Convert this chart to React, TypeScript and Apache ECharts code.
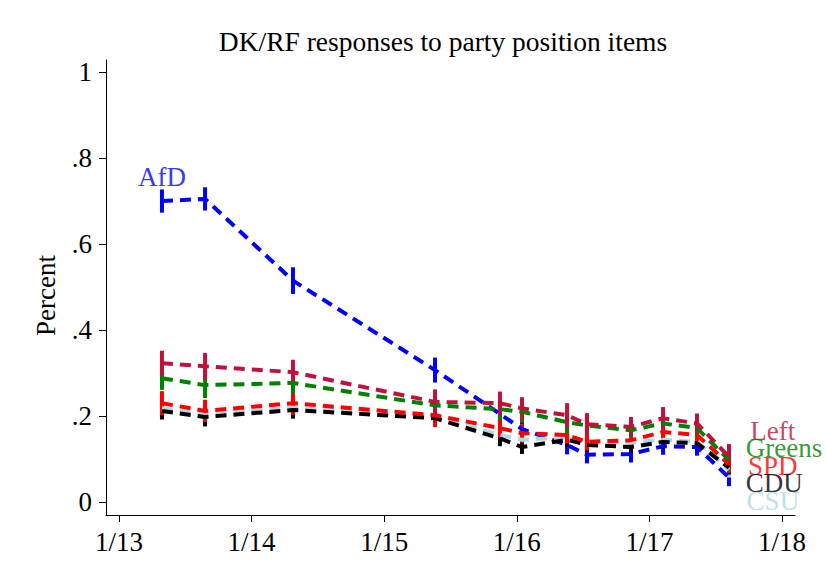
import React, { useEffect, useRef } from "react";
import * as echarts from "echarts";

// Survey dates in decimal years (2013.0 = January 2013)
const surveyDates = [2013.324, 2013.649, 2014.312, 2015.383, 2015.873, 2016.039, 2016.379, 2016.529, 2016.861, 2017.103, 2017.359, 2017.6];

const afd = [0.7, 0.705, 0.515, 0.307, 0.205, 0.17, 0.133, 0.11, 0.112, 0.13, 0.128, 0.057];
const afdCI = [0.027, 0.027, 0.031, 0.029, 0.025, 0.025, 0.022, 0.02, 0.02, 0.02, 0.02, 0.02];

const csu = [0.218, 0.205, 0.22, 0.2, 0.156, 0.145, 0.15, 0.14, 0.138, 0.145, 0.14, 0.075];
const csuCI = [0.022, 0.022, 0.022, 0.022, 0.02, 0.018, 0.018, 0.018, 0.018, 0.018, 0.018, 0.018];

const cdu = [0.212, 0.198, 0.214, 0.195, 0.148, 0.128, 0.145, 0.133, 0.128, 0.14, 0.137, 0.08];
const cduCI = [0.02, 0.022, 0.02, 0.02, 0.018, 0.016, 0.016, 0.016, 0.016, 0.016, 0.016, 0.016];

const spd = [0.23, 0.212, 0.23, 0.202, 0.172, 0.16, 0.156, 0.14, 0.144, 0.163, 0.156, 0.088];
const spdCI = [0.028, 0.026, 0.027, 0.027, 0.022, 0.022, 0.02, 0.02, 0.02, 0.02, 0.02, 0.02];

const greens = [0.288, 0.272, 0.277, 0.225, 0.216, 0.21, 0.186, 0.178, 0.167, 0.183, 0.172, 0.098];
const greensCI = [0.027, 0.03, 0.025, 0.025, 0.025, 0.025, 0.025, 0.024, 0.022, 0.022, 0.022, 0.025];

const left = [0.323, 0.316, 0.302, 0.233, 0.23, 0.218, 0.202, 0.181, 0.175, 0.195, 0.183, 0.105];
const leftCI = [0.029, 0.031, 0.029, 0.029, 0.027, 0.026, 0.028, 0.026, 0.023, 0.026, 0.023, 0.03];

const xTicks = [2013, 2014, 2015, 2016, 2017, 2018];
const yTicks = [0, 0.2, 0.4, 0.6, 0.8, 1];

// Text labels placed in data space
const labelNames = ["AfD", "Left", "Greens", "SPD", "CDU", "CSU"];
const labelX = [2013.324, 2017.76, 2017.726, 2017.743, 2017.726, 2017.733];
const labelY = [0.756, 0.165, 0.1256, 0.0837, 0.044, 0.0023];

const FONT = "'Liberation Serif', 'Times New Roman', Times, serif";

const parties = [
  { name: "AfD", values: afd, ci: afdCI, color: "#0000FF" },
  { name: "CSU", values: csu, ci: csuCI, color: "#ADD8E6" },
  { name: "CDU", values: cdu, ci: cduCI, color: "#000000" },
  { name: "SPD", values: spd, ci: spdCI, color: "#FF0000" },
  { name: "Greens", values: greens, ci: greensCI, color: "#008000" },
  { name: "Left", values: left, ci: leftCI, color: "#C0103C" },
];
const labelColors: Record<string, string> = {
  AfD: "#0000FF",
  Left: "#C0103C",
  Greens: "#008000",
  SPD: "#FF0000",
  CDU: "#000000",
  CSU: "#ADD8E6",
};

export default function App() {
  const ref = useRef<HTMLDivElement>(null);
  useEffect(() => {
    if (!ref.current) return;
    const chart = echarts.init(ref.current, undefined, { renderer: "svg" });
    const series: any[] = [];
    parties.forEach((p) => {
      series.push({
        type: "custom",
        name: p.name + " CI",
        data: surveyDates.map((d, i) => [d, p.values[i] - p.ci[i], p.values[i] + p.ci[i]]),
        encode: { x: 0, y: [1, 2] },
        renderItem: (params: any, api: any) => {
          const x = api.value(0);
          const a = api.coord([x, api.value(1)]);
          const b = api.coord([x, api.value(2)]);
          return {
            type: "line",
            shape: { x1: a[0], y1: a[1], x2: b[0], y2: b[1] },
            style: { stroke: p.color, lineWidth: 4 },
          };
        },
        silent: true,
      });
      series.push({
        type: "line",
        name: p.name,
        data: surveyDates.map((d, i) => [d, p.values[i]]),
        symbol: "none",
        lineStyle: { color: p.color, width: 4, type: [11, 7], cap: "butt" },
        silent: true,
      });
    });
    series.push({
      type: "scatter",
      name: "labels",
      symbolSize: 1,
      itemStyle: { color: "transparent" },
      silent: true,
      data: labelNames.map((n, i) => ({
        value: [labelX[i], labelY[i]],
        label: {
          show: true,
          position: "inside",
          formatter: n,
          align: n === "AfD" ? "center" : "left",
          verticalAlign: "middle",
          color: labelColors[n],
          fontSize: 27,
          fontFamily: FONT,
        },
      })),
    });

    chart.setOption({
      animation: false,
      backgroundColor: "#ffffff",
      grid: { left: 106, right: 31, top: 60, bottom: 64, containLabel: false },
      graphic: [
        {
          type: "text",
          x: 443,
          y: 41,
          style: {
            text: "DK/RF responses to party position items",
            fontSize: 27.5,
            fontFamily: FONT,
            fill: "#000",
            textAlign: "center",
            textVerticalAlign: "middle",
          },
        },
      ],
      xAxis: {
        type: "value",
        min: 2012.902,
        max: 2018.098,
        splitLine: { show: false },
        axisLine: { show: true, onZero: false, lineStyle: { color: "#000", width: 1 } },
        axisTick: { show: true, length: 7, customValues: xTicks, lineStyle: { color: "#000" } },
        axisLabel: {
          customValues: xTicks,
          margin: 13,
          fontSize: 27,
          fontFamily: FONT,
          color: "#000",
          formatter: (v: number) => "1/" + String(Math.round(v) - 2000),
        },
      },
      yAxis: {
        type: "value",
        min: -0.03,
        max: 1.028,
        name: "Percent",
        nameLocation: "middle",
        nameGap: 47,
        nameTextStyle: { fontSize: 27, fontFamily: FONT, color: "#000", padding: [0, 16, 0, 0] },
        splitLine: { show: false },
        axisLine: { show: true, onZero: false, lineStyle: { color: "#000", width: 1 } },
        axisTick: { show: true, length: 7, customValues: yTicks, lineStyle: { color: "#000" } },
        axisLabel: {
          customValues: yTicks,
          margin: 14,
          fontSize: 27,
          fontFamily: FONT,
          color: "#000",
          formatter: (v: number) => {
            const r = Math.round(v * 10) / 10;
            if (r === 0) return "0";
            if (r === 1) return "1";
            return String(r).replace(/^0/, "");
          },
        },
      },
      series,
    });
    return () => chart.dispose();
  }, []);
  return (
    <div
      ref={ref}
      style={{ position: "fixed", left: 0, top: 0, width: 826, height: 579, background: "#fff" }}
    />
  );
}
